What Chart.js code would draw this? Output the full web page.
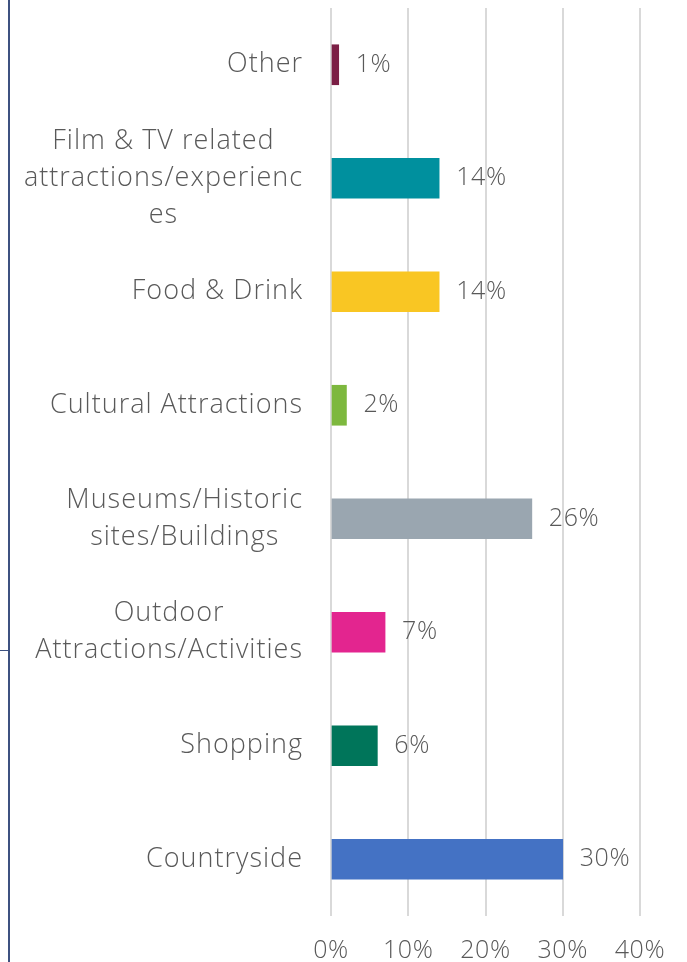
<!DOCTYPE html>
<html>
<head>
<meta charset="utf-8">
<script src="https://cdn.jsdelivr.net/npm/chart.js@4"></script>
<style>
  html, body { margin: 0; padding: 0; background: #fff; }
  #wrap { position: relative; width: 687px; height: 962px; overflow: hidden; }
  #edge { position: absolute; left: 8px; top: 0; width: 2px; height: 962px; background: #3d5180; }
  #tick { position: absolute; left: 0; top: 650px; width: 9px; height: 1px; background: #3d5180; }
</style>
</head>
<body>
<div id="wrap">
  <canvas id="c" width="687" height="962"></canvas>
  <div id="edge"></div>
  <div id="tick"></div>
</div>
<script>
const categories = [
  ["Other"],
  ["Film & TV related", "attractions/experienc", "es"],
  ["Food & Drink"],
  ["Cultural Attractions"],
  ["Museums/Historic", "sites/Buildings"],
  ["Outdoor", "Attractions/Activities"],
  ["Shopping"],
  ["Countryside"],
];
const shares = [1, 14, 14, 2, 26, 7, 6, 30];
const barColors = ["#7b1f45", "#00909e", "#f9c623", "#7db83e", "#9aa6b0", "#e3258f", "#00755a", "#4472c4"];
const xTicks = [0, 10, 20, 30, 40];

const FONT = "'Open Sans', sans-serif";
const TEXT = "#595959";

// slightly wider tracking for all text
const tracking = {
  id: "tracking",
  beforeDraw(chart) { chart.ctx.letterSpacing = "0.6px"; },
};

// category labels: widest line right-aligned to the axis, lines centred within the block
const catLabels = {
  id: "catLabels",
  afterDraw(chart) {
    const { ctx, chartArea } = chart;
    const y = chart.scales.y;
    ctx.save();
    ctx.letterSpacing = "1px";
    ctx.font = "300 27px " + FONT;
    ctx.fillStyle = TEXT;
    ctx.textAlign = "center";
    ctx.textBaseline = "middle";
    const lh = 37;
    categories.forEach((lines, i) => {
      const maxW = Math.max(...lines.map((l) => ctx.measureText(l).width));
      const cx = chartArea.left - 28 - maxW / 2;
      const cy = y.getPixelForValue(i);
      const top = cy - (lh * (lines.length - 1)) / 2;
      lines.forEach((l, j) => ctx.fillText(l, cx, top + j * lh));
    });
    ctx.restore();
  },
};

// value labels past the end of each bar
const valueLabels = {
  id: "valueLabels",
  afterDatasetsDraw(chart) {
    const { ctx } = chart;
    const meta = chart.getDatasetMeta(0);
    ctx.save();
    ctx.letterSpacing = "0.6px";
    ctx.font = "300 25px " + FONT;
    ctx.fillStyle = TEXT;
    ctx.textAlign = "left";
    ctx.textBaseline = "middle";
    meta.data.forEach((bar, i) => {
      ctx.fillText(shares[i] + "%", bar.x + 17, bar.y);
    });
    ctx.restore();
  },
};

new Chart(document.getElementById("c"), {
  type: "bar",
  data: {
    labels: categories,
    datasets: [{
      data: shares,
      backgroundColor: barColors,
      barThickness: 40,
    }],
  },
  options: {
    indexAxis: "y",
    responsive: false,
    animation: false,
    layout: { padding: { left: 331, right: 47, top: 8, bottom: -24 } },
    scales: {
      x: {
        min: 0,
        max: 40,
        afterBuildTicks: (axis) => { axis.ticks = xTicks.map((v) => ({ value: v })); },
        border: { display: false },
        grid: { color: "#d9d9d9", lineWidth: 2, drawTicks: false },
        ticks: {
          padding: 20,
          color: TEXT,
          font: { family: FONT, size: 25, weight: 300 },
          callback: (v) => v + "%",
        },
      },
      y: { display: false },
    },
    plugins: { legend: { display: false }, tooltip: { enabled: false } },
  },
  plugins: [tracking, catLabels, valueLabels],
});
</script>
</body>
</html>
